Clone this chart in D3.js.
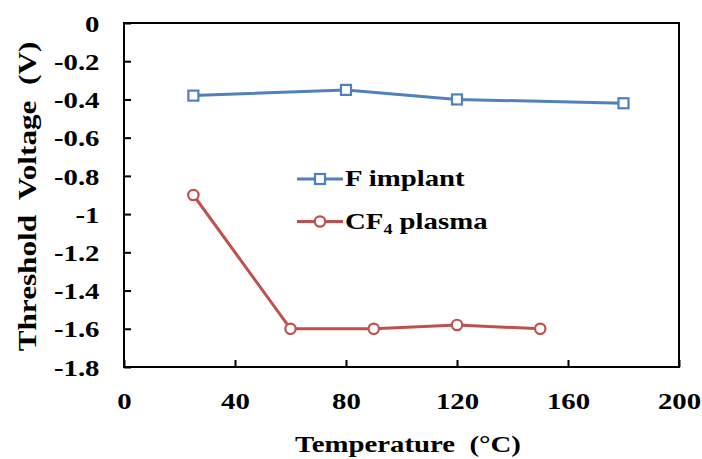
<!DOCTYPE html>
<html>
<head>
<meta charset="utf-8">
<script src="https://cdn.jsdelivr.net/npm/d3@7"></script>
<style>
  html, body { margin: 0; padding: 0; background: #fff; }
  svg { display: block; }
  text { font-family: "Liberation Serif", "Times New Roman", serif; font-weight: bold; fill: #000; }
</style>
</head>
<body>
<svg id="chart" width="702" height="459"></svg>
<script>
// Threshold voltage vs. anneal temperature for two fluorination methods
const xTicks = [0, 40, 80, 120, 160, 200];
const yTicks = [0, -0.2, -0.4, -0.6, -0.8, -1, -1.2, -1.4, -1.6, -1.8];
const yTickLabels = ["0", "-0.2", "-0.4", "-0.6", "-0.8", "-1", "-1.2", "-1.4", "-1.6", "-1.8"];

const implantTemp = [25, 80, 120, 180];
const implantVth = [-0.38, -0.35, -0.40, -0.42];

const plasmaTemp = [25, 60, 90, 120, 150];
const plasmaVth = [-0.90, -1.60, -1.60, -1.58, -1.60];

const seriesNames = ["F implant", "CF4 plasma"];
const colors = ["#4F81BD", "#C0504D"];

const svg = d3.select("#chart");
const W = 702, H = 459;
const m = { left: 124, right: W - 679, top: 23, bottom: H - 367 };
const SX = 1.2; // glyphs in this chart are set wide

const x = d3.scaleLinear().domain([0, 200]).range([m.left, W - m.right]);
const y = d3.scaleLinear().domain([-1.8, 0]).range([H - m.bottom, m.top]);

// Axes with inward ticks
const gy = svg.append("g")
  .attr("transform", `translate(${m.left},0)`)
  .call(d3.axisLeft(y).tickValues(yTicks).tickSizeInner(-7).tickSizeOuter(0)
    .tickFormat((d, i) => yTickLabels[i]));
gy.select(".domain").remove();
gy.selectAll(".tick line").attr("stroke", "#000").attr("stroke-width", 2);
gy.selectAll(".tick text")
  .attr("x", -24.5 / SX).attr("dy", "0.34em")
  .attr("transform", `scale(${SX},1)`)
  .attr("text-anchor", "end")
  .style("font-size", "24px")
  .style("font-family", null);

const gx = svg.append("g")
  .attr("transform", `translate(0,${H - m.bottom})`)
  .call(d3.axisBottom(x).tickValues(xTicks).tickSizeInner(-7).tickSizeOuter(0)
    .tickFormat(d3.format("d")));
gx.select(".domain").remove();
gx.selectAll(".tick line").attr("stroke", "#000").attr("stroke-width", 2);
gx.selectAll(".tick text")
  .attr("y", 42).attr("dy", 0)
  .attr("transform", `scale(${SX},1)`)
  .attr("text-anchor", "middle")
  .style("font-size", "24px")
  .style("font-family", null);

// Plot frame
svg.append("rect")
  .attr("x", m.left).attr("y", m.top)
  .attr("width", W - m.right - m.left).attr("height", H - m.bottom - m.top)
  .attr("fill", "none").attr("stroke", "#000").attr("stroke-width", 2);

// Series
const line = d3.line().x(d => x(d[0])).y(d => y(d[1]));
const implant = implantTemp.map((t, i) => [t, implantVth[i]]);
const plasma = plasmaTemp.map((t, i) => [t, plasmaVth[i]]);

svg.append("path").datum(implant).attr("d", line)
  .attr("fill", "none").attr("stroke", colors[0]).attr("stroke-width", 3);
svg.append("path").datum(plasma).attr("d", line)
  .attr("fill", "none").attr("stroke", colors[1]).attr("stroke-width", 3);

const sq = 10;
svg.selectAll(".sq").data(implant).enter().append("rect")
  .attr("x", d => x(d[0]) - sq / 2).attr("y", d => y(d[1]) - sq / 2)
  .attr("width", sq).attr("height", sq)
  .attr("fill", "#fff").attr("stroke", colors[0]).attr("stroke-width", 2.2);
svg.selectAll(".ci").data(plasma).enter().append("circle")
  .attr("cx", d => x(d[0])).attr("cy", d => y(d[1])).attr("r", 5.2)
  .attr("fill", "#fff").attr("stroke", colors[1]).attr("stroke-width", 2.2);

// Legend
const legY = [179, 221.5];
const lx0 = 297, lx1 = 343;
legY.forEach((ly, i) => {
  svg.append("line").attr("x1", lx0).attr("x2", lx1).attr("y1", ly).attr("y2", ly)
    .attr("stroke", colors[i]).attr("stroke-width", 3);
  const cx = (lx0 + lx1) / 2;
  if (i === 0) {
    svg.append("rect").attr("x", cx - sq / 2).attr("y", ly - sq / 2).attr("width", sq).attr("height", sq)
      .attr("fill", "#fff").attr("stroke", colors[i]).attr("stroke-width", 2.2);
  } else {
    svg.append("circle").attr("cx", cx).attr("cy", ly).attr("r", 5.2)
      .attr("fill", "#fff").attr("stroke", colors[i]).attr("stroke-width", 2.2);
  }
});
const t0 = svg.append("text")
  .attr("transform", `translate(345,${legY[0] + 7}) scale(${SX},1)`)
  .style("font-size", "24px").text(seriesNames[0]);
const t1 = svg.append("text")
  .attr("transform", `translate(345,${legY[1] + 7}) scale(${SX},1)`)
  .style("font-size", "24px");
t1.append("tspan").text("CF");
t1.append("tspan").attr("dy", 5).style("font-size", "15px").text("4");
t1.append("tspan").attr("dy", -5).text(" plasma");

// Axis titles
svg.append("text")
  .attr("transform", `translate(408,452) scale(${SX},1)`)
  .attr("text-anchor", "middle")
  .style("font-size", "24px")
  .style("white-space", "pre")
  .text("Temperature  (°C)");
svg.append("text")
  .attr("transform", `translate(36,196.5) rotate(-90) scale(${SX},1)`)
  .attr("text-anchor", "middle")
  .style("font-size", "26px")
  .style("white-space", "pre")
  .text("Threshold  Voltage  (V)");
</script>
</body>
</html>
